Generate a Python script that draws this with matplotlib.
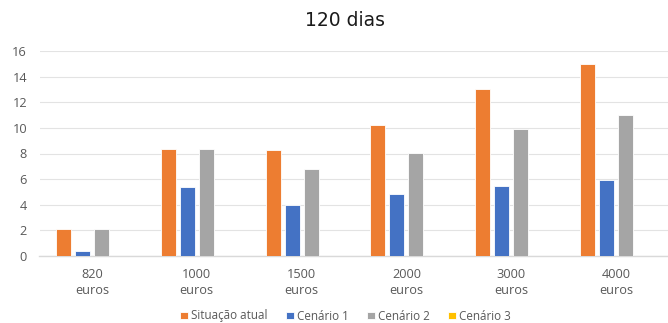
import matplotlib
matplotlib.use("Agg")
import matplotlib.pyplot as plt
import numpy as np

categories = ["820\neuros", "1000\neuros", "1500\neuros", "2000\neuros", "3000\neuros", "4000\neuros"]
situacao_atual = [2.1, 8.33, 8.25, 10.25, 13.0, 14.96]
cenario_1 = [0.42, 5.39, 3.98, 4.87, 5.49, 5.93]
cenario_2 = [2.1, 8.33, 6.82, 8.04, 9.91, 10.98]
cenario_3 = [0, 0, 0, 0, 0, 0]

series = [
    ("Situação atual", situacao_atual, "#ED7D31"),
    ("Cenário 1", cenario_1, "#4472C4"),
    ("Cenário 2", cenario_2, "#A5A5A5"),
    ("Cenário 3", cenario_3, "#FFC000"),
]

plt.rcParams["font.family"] = ["Open Sans", "DejaVu Sans"]

fig = plt.figure(figsize=(6.68, 3.23), dpi=100)
ax = fig.add_axes([39.5 / 668, 67 / 323, 629 / 668, 205 / 323])

x = np.arange(len(categories))
step = 0.181
width = 0.143
offsets = (np.arange(len(series)) - 1.5) * step
for (name, vals, color), off in zip(series, offsets):
    ax.bar(x + off, vals, width, color=color, label=name,
           edgecolor="white", linewidth=0.6, zorder=3)

ax.set_xlim(-0.5, len(categories) - 0.5)
ax.set_ylim(0, 16)
ax.set_yticks(np.arange(0, 17, 2))
ax.set_xticks(x)
ax.set_xticklabels(categories, linespacing=1.3)
ax.tick_params(axis="both", length=0, labelsize=9.2, colors="#595959")
ax.tick_params(axis="y", pad=9)
ax.tick_params(axis="x", pad=9)

ax.grid(axis="y", color="#E3E3E3", linewidth=0.8, zorder=0)
for side in ("left", "right", "top"):
    ax.spines[side].set_visible(False)
ax.spines["bottom"].set_color("#D9D9D9")
ax.spines["bottom"].set_linewidth(1.0)

fig.text(0.516, 0.935, "120 dias", ha="center", va="center",
         fontsize=13.5, color="#1a1a1a", family="DejaVu Sans")

fig.legend(loc="center", bbox_to_anchor=(0.517, 1 - 316 / 323), ncol=4,
           frameon=False, handlelength=0.65, handleheight=0.65,
           handletextpad=0.25, columnspacing=1.6, fontsize=8.4,
           labelcolor="#595959")

fig.savefig("out.png", dpi=100, facecolor="white")
